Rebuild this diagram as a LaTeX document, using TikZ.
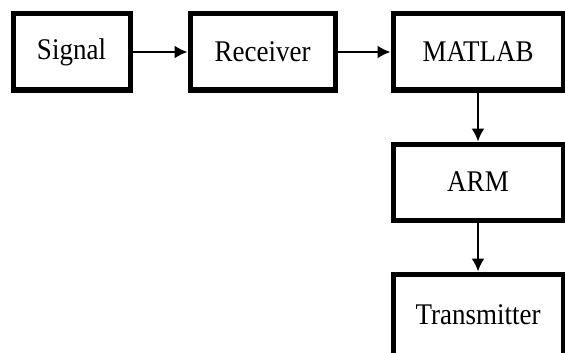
\documentclass[tikz,border=0pt]{standalone}
\usepackage{fontspec}
\setmainfont{Liberation Serif}[FakeStretch=0.9]
\usetikzlibrary{arrows.meta}
\begin{document}
\begin{tikzpicture}[x=1pt,y=-1pt,
  blk/.style={draw=black, line width=5pt, rectangle, inner sep=0pt,
    font=\fontsize{30}{33}\selectfont},
  conn/.style={line width=2pt, -{Latex[length=13pt,width=13pt]}}]
\useasboundingbox (0,0) rectangle (565,353);
\clip (0,0) rectangle (565,353);
\node[blk, minimum width=117pt, minimum height=76pt] (signal) at (71.5,52) {Signal};
\node[blk, minimum width=145pt, minimum height=76pt] (receiver) at (262.5,52) {Receiver};
\node[blk, minimum width=170pt, minimum height=76pt] (matlab) at (478,52) {MATLAB};
\node[blk, minimum width=170pt, minimum height=76pt] (arm) at (478,182) {ARM};
\node[blk, minimum width=170pt, minimum height=82pt] (tx) at (478,315) {Transmitter};
\draw[conn] (signal.east) -- (receiver.west);
\draw[conn] (receiver.east) -- (matlab.west);
\draw[conn] (matlab.south) -- (arm.north);
\draw[conn] (arm.south) -- (tx.north);
\end{tikzpicture}
\end{document}
